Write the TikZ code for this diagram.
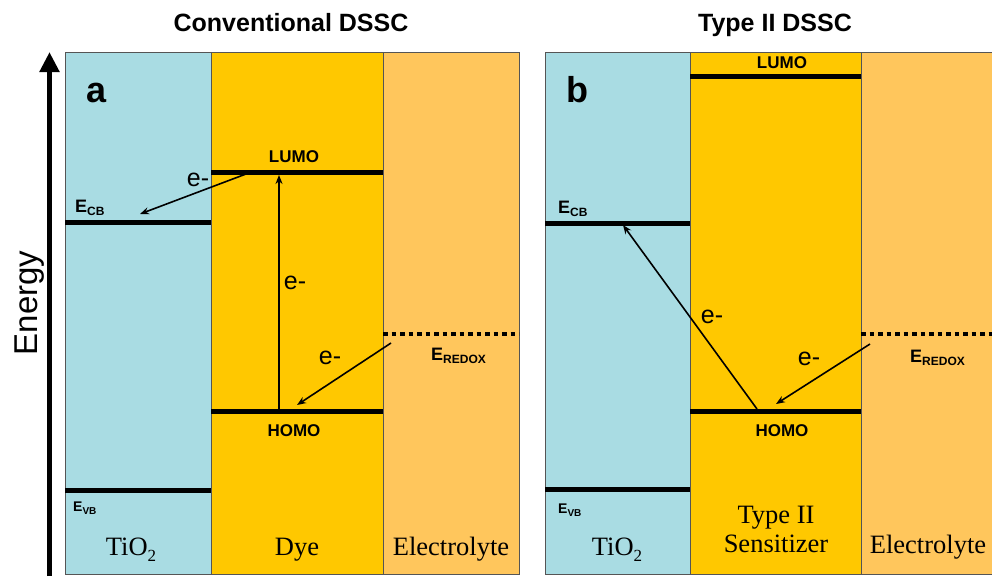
\documentclass[tikz,border=0pt]{standalone}
\usepackage{fontspec}
\setmainfont{Liberation Serif}
\newfontfamily\arialf{Liberation Sans}
\usetikzlibrary{arrows.meta}
\definecolor{tio}{RGB}{169,220,227}
\definecolor{dye}{RGB}{255,200,0}
\definecolor{ele}{RGB}{255,198,92}
\definecolor{edgec}{RGB}{85,85,85}
\newcommand{\fs}[1]{\fontsize{#1}{#1}\selectfont}
\newcommand{\Elab}[3]{{\fs{#1}E}\raisebox{-3pt}{\fs{#2}#3}}
\tikzset{
  layer/.style={draw=edgec, line width=0.8pt},
  level/.style={line width=5pt},
  redox/.style={line width=4.5pt, dash pattern=on 4.5pt off 4pt},
  etrans/.style={line width=1.6pt, -{Stealth[length=9pt,width=7pt]}},
  title/.style={font=\arialf\bfseries\fs{25}, anchor=base, inner sep=0},
  panel/.style={font=\arialf\bfseries\fs{36}, anchor=base west, inner sep=0},
  orb/.style={font=\arialf\bfseries\fs{17}, anchor=base, inner sep=0},
  elab/.style={font=\arialf\bfseries, anchor=base west, inner sep=0},
  elec/.style={font=\arialf\fs{25}, inner sep=0},
  mat/.style={font=\fs{26.5}, anchor=base, inner sep=0},
}
\begin{document}
\begin{tikzpicture}[x=1pt,y=-1pt]
\useasboundingbox (0,0) rectangle (992,576);
% ---------- panel a ----------
\fill[tio] (65,52) rectangle (211,574);
\fill[dye] (211,52) rectangle (383,574);
\fill[ele] (383,52) rectangle (519,574);
\draw[layer] (65,52) rectangle (211,574);
\draw[layer] (211,52) rectangle (383,574);
\draw[layer] (383,52) rectangle (519,574);
% ---------- panel b ----------
\fill[tio] (545,52) rectangle (690,574);
\fill[dye] (690,52) rectangle (861,574);
\fill[ele] (861,52) rectangle (996,574);
\draw[layer] (545,52) rectangle (690,574);
\draw[layer] (690,52) rectangle (861,574);
\draw[layer] (861,52) rectangle (996,574);
% ---------- coordinates ----------
\coordinate (aLUMOl) at (211,172.5); \coordinate (aLUMOr) at (383,172.5);
\coordinate (aCBl) at (65,222); \coordinate (aCBr) at (211,222);
\coordinate (aHOMOl) at (211,411); \coordinate (aHOMOr) at (383,411);
\coordinate (aVBl) at (65,490); \coordinate (aVBr) at (211,490);
\coordinate (aRDl) at (383,334); \coordinate (aRDr) at (519,334);
\coordinate (bLUMOl) at (690,76); \coordinate (bLUMOr) at (861,76);
\coordinate (bCBl) at (545,223); \coordinate (bCBr) at (690,223);
\coordinate (bHOMOl) at (690,411); \coordinate (bHOMOr) at (861,411);
\coordinate (bVBl) at (545,489); \coordinate (bVBr) at (690,489);
\coordinate (bRDl) at (861,334); \coordinate (bRDr) at (992,334);
% arrow ends
\coordinate (a1s) at (246,174); \coordinate (a1e) at (140,214);
\coordinate (a2s) at (279,409); \coordinate (a2e) at (279,175);
\coordinate (a3s) at (391,343); \coordinate (a3e) at (297,405);
\coordinate (b1s) at (757,409); \coordinate (b1e) at (623,225);
\coordinate (b2s) at (870,344); \coordinate (b2e) at (776,404);
\coordinate (enB) at (49.5,576); \coordinate (enT) at (49.5,52);
% ---------- levels ----------
\draw[level] (aLUMOl) -- (aLUMOr);
\draw[level] (aCBl) -- (aCBr);
\draw[level] (aHOMOl) -- (aHOMOr);
\draw[level] (aVBl) -- (aVBr);
\draw[redox] (aRDl) -- (aRDr);
\draw[level] (bLUMOl) -- (bLUMOr);
\draw[level] (bCBl) -- (bCBr);
\draw[level] (bHOMOl) -- (bHOMOr);
\draw[level] (bVBl) -- (bVBr);
\draw[redox] (bRDl) -- (bRDr);
% ---------- electron transfers ----------
\draw[etrans] (a1s) -- (a1e);
\draw[etrans] (a2s) -- (a2e);
\draw[etrans] (a3s) -- (a3e);
\draw[etrans] (b1s) -- (b1e);
\draw[etrans] (b2s) -- (b2e);
% ---------- energy axis ----------
\draw[line width=5.5pt, -{Triangle[length=20pt,width=19pt]}] (enB) -- (enT);
\node[font=\arialf\fs{33}, rotate=90, anchor=base, inner sep=0] (energy) at (37,303) {Energy};
% ---------- texts ----------
\node[title] (ta) at (291,31) {Conventional DSSC};
\node[title] (tb) at (775,31) {Type II DSSC};
\node[panel] (pa) at (86,102) {a};
\node[panel] (pb) at (566,102) {b};
\node[orb] (aLUMO) at (294,162) {LUMO};
\node[orb] (aHOMO) at (294,436) {HOMO};
\node[orb] (bLUMO) at (782,68) {LUMO};
\node[orb] (bHOMO) at (782,436) {HOMO};
\node[elab] (aCB) at (75,212) {\Elab{18}{12}{CB}};
\node[elab] (aVB) at (73,511) {\Elab{14}{10}{VB}};
\node[elab] (aRD) at (431,360) {\Elab{18}{12}{REDOX}};
\node[elab] (bCB) at (558,213) {\Elab{18}{12}{CB}};
\node[elab] (bVB) at (558,513) {\Elab{14}{10}{VB}};
\node[elab] (bRD) at (910,362) {\Elab{18}{12}{REDOX}};
\node[elec] (ea1) at (198,180) {e-};
\node[elec] (ea2) at (295,283) {e-};
\node[elec] (ea3) at (330,358) {e-};
\node[elec] (eb1) at (712,317) {e-};
\node[elec] (eb2) at (809,359) {e-};
\node[mat] (aTi) at (131,555) {TiO\raisebox{-6pt}{\fs{17}2}};
\node[mat] (aDye) at (297,555) {Dye};
\node[mat] (aEl) at (451,555) {Electrolyte};
\node[mat] (bTi) at (617,555) {TiO\raisebox{-6pt}{\fs{17}2}};
\node[mat] (bTy) at (776,523) {Type II};
\node[mat] (bSe) at (776,552) {Sensitizer};
\node[mat] (bEl) at (928,553) {Electrolyte};
\end{tikzpicture}
\end{document}
